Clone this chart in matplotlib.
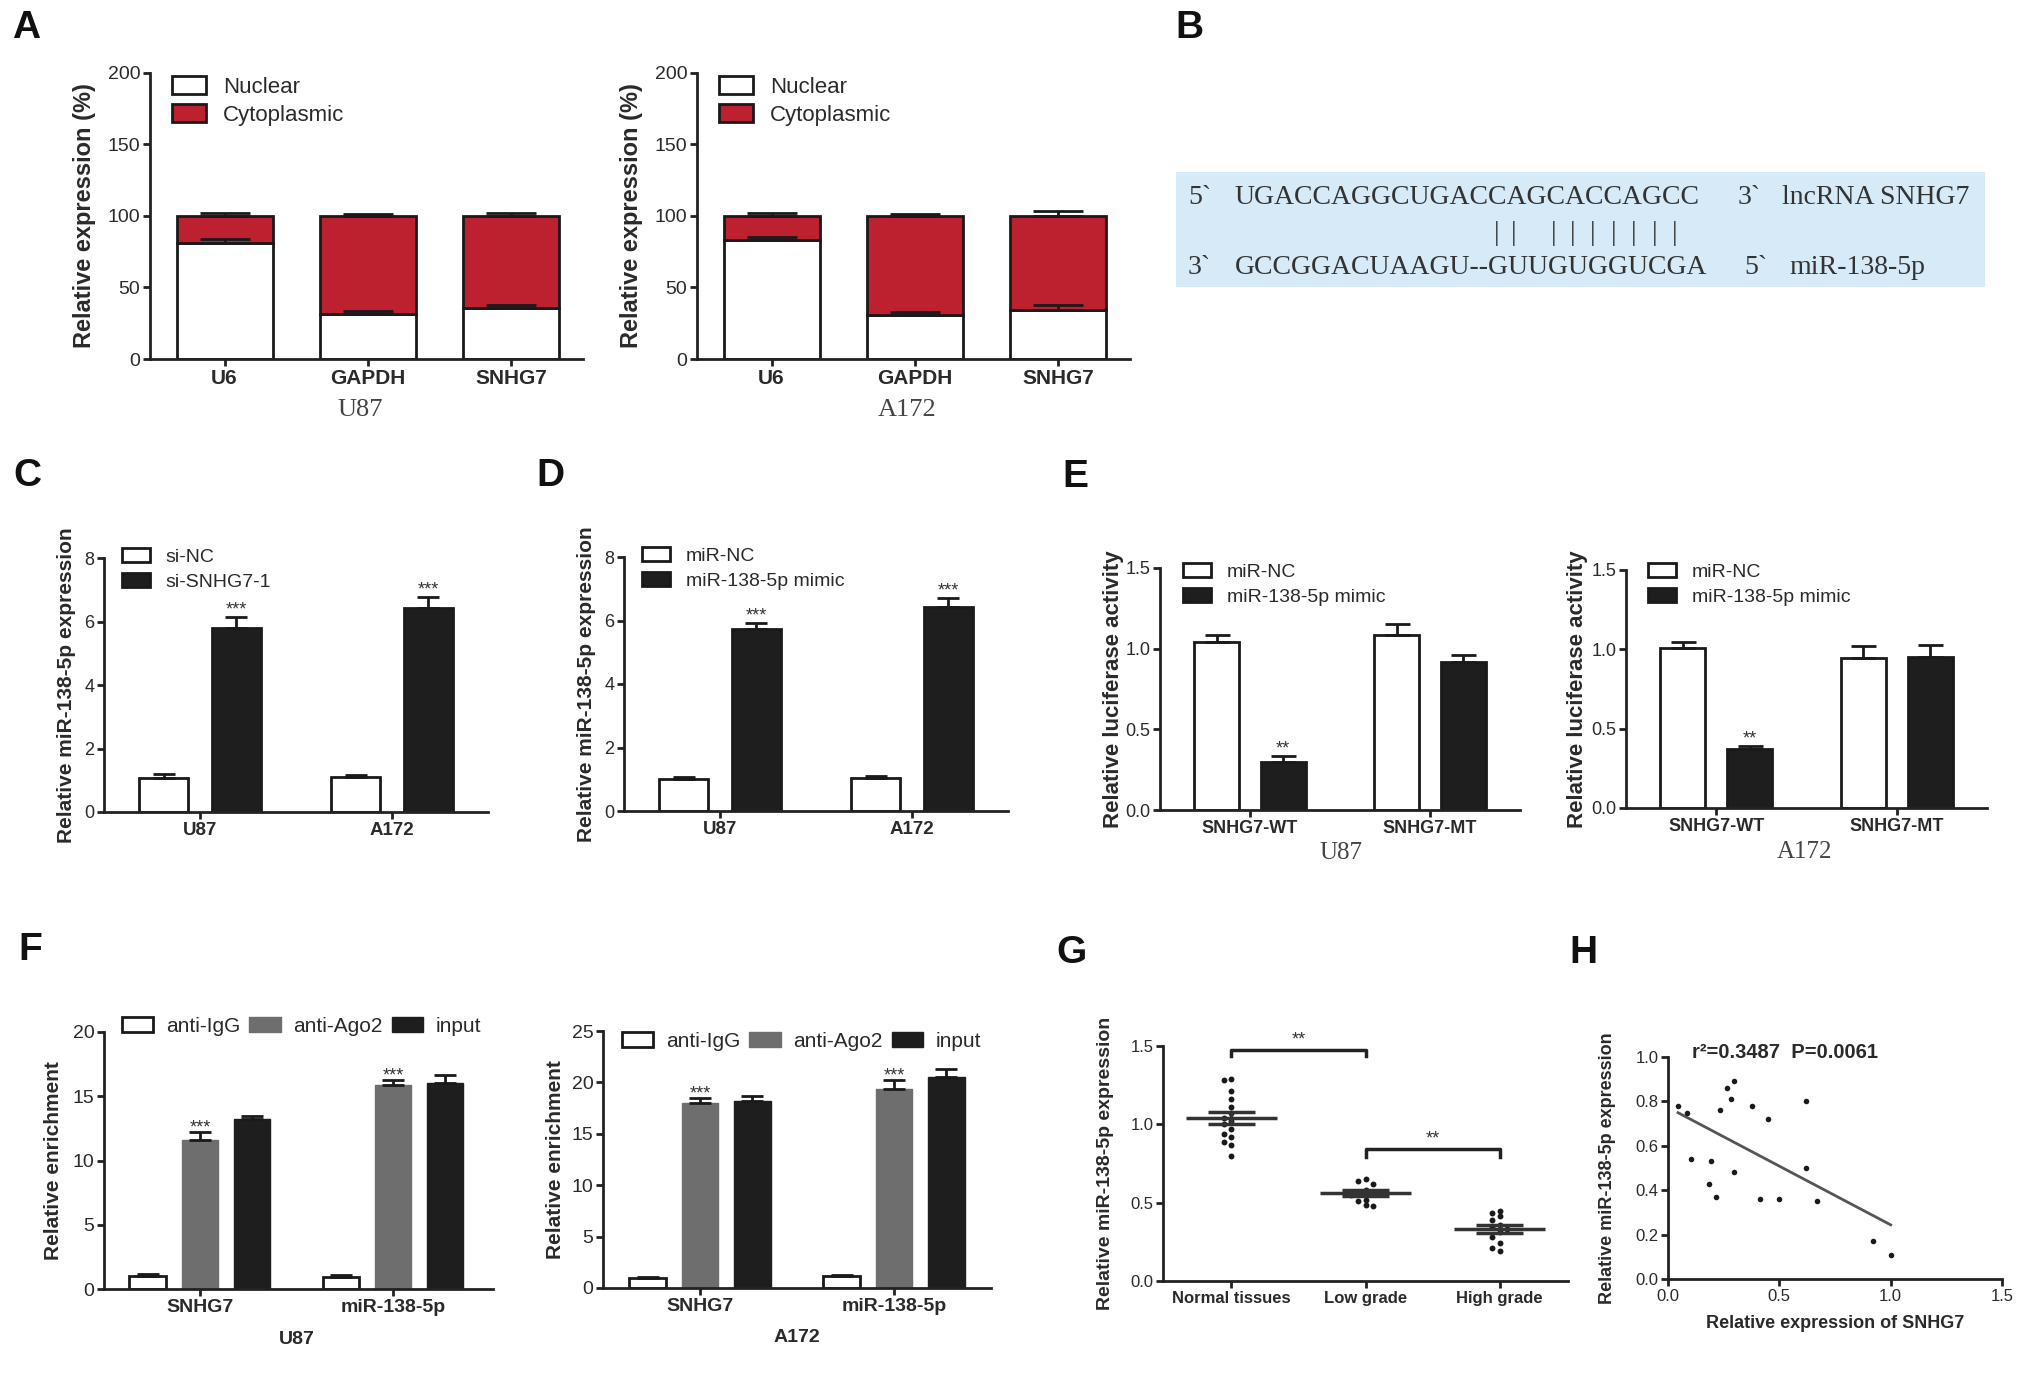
import matplotlib
matplotlib.use("Agg")
import matplotlib.pyplot as plt
import numpy as np
from matplotlib.patches import Rectangle

plt.rcParams['font.family'] = ['Liberation Sans', 'DejaVu Sans']

# ---------------- data ----------------
# A: nuclear / cytoplasmic fraction (%)
genes_a = ["U6", "GAPDH", "SNHG7"]
u87_nuclear = [81.0, 31.5, 35.5]
u87_nuclear_err = [2.5, 2.0, 2.5]
u87_total_err = [2.0, 1.5, 2.0]
a172_nuclear = [83.0, 30.5, 34.0]
a172_nuclear_err = [2.5, 2.0, 3.5]
a172_total_err = [2.0, 1.5, 3.5]

# C, D
cells = ["U87", "A172"]
c_si_nc = [1.07, 1.10]
c_si_nc_err = [0.12, 0.06]
c_si_snhg7 = [5.80, 6.42]
c_si_snhg7_err = [0.33, 0.35]
d_mir_nc = [1.00, 1.03]
d_mir_nc_err = [0.07, 0.07]
d_mimic = [5.73, 6.42]
d_mimic_err = [0.20, 0.30]

# E luciferase
constructs = ["SNHG7-WT", "SNHG7-MT"]
e_u87_nc = [1.04, 1.085]
e_u87_nc_err = [0.045, 0.07]
e_u87_mimic = [0.297, 0.918]
e_u87_mimic_err = [0.04, 0.04]
e_a172_nc = [1.008, 0.945]
e_a172_nc_err = [0.04, 0.075]
e_a172_mimic = [0.372, 0.951]
e_a172_mimic_err = [0.02, 0.075]

# F RIP
targets = ["SNHG7", "miR-138-5p"]
f_u87_igg = [1.03, 0.93]
f_u87_igg_err = [0.15, 0.18]
f_u87_ago2 = [11.6, 15.9]
f_u87_ago2_err = [0.6, 0.34]
f_u87_input = [13.2, 16.05]
f_u87_input_err = [0.26, 0.57]
f_a172_igg = [0.94, 1.13]
f_a172_igg_err = [0.10, 0.10]
f_a172_ago2 = [18.0, 19.4]
f_a172_ago2_err = [0.5, 0.8]
f_a172_input = [18.2, 20.5]
f_a172_input_err = [0.5, 0.8]

# G tissues
groups_g = ["Normal tissues", "Low grade", "High grade"]
g_normal = [1.29, 1.28, 1.21, 1.16, 1.11, 1.07, 1.04, 1.02, 1.00, 0.97,
            0.94, 0.92, 0.89, 0.87, 0.80]
g_low = [0.65, 0.64, 0.62, 0.58, 0.57, 0.56, 0.55, 0.52, 0.51, 0.485, 0.48]
g_high = [0.45, 0.435, 0.415, 0.39, 0.36, 0.345, 0.33, 0.31, 0.28, 0.245,
          0.21, 0.19]

# H correlation
h_snhg7 = [0.045, 0.085, 0.105, 0.195, 0.185, 0.215, 0.235, 0.265, 0.285,
           0.297, 0.297, 0.376, 0.415, 0.447, 0.498, 0.618, 0.618, 0.667,
           0.92, 1.0]
h_mir = [0.78, 0.75, 0.54, 0.53, 0.43, 0.37, 0.76, 0.86, 0.81, 0.89, 0.48,
         0.78, 0.36, 0.72, 0.36, 0.80, 0.50, 0.35, 0.17, 0.11]

# ---------------- figure ----------------
W, H = 2031, 1381
fig = plt.figure(figsize=(W / 100, H / 100), dpi=100)

RED = '#bd2130'
DARK = '#1e1e1e'
GRAY = '#6e6e6e'
EDGE = '#1a1a1a'
TXT = '#2a2a2a'


def add_ax(l, t, r, b):
    return fig.add_axes([l / W, 1 - b / H, (r - l) / W, (b - t) / H])


def style(ax, tick_fs):
    for s in ['top', 'right']:
        ax.spines[s].set_visible(False)
    for s in ['left', 'bottom']:
        ax.spines[s].set_linewidth(2)
        ax.spines[s].set_color('#222222')
    ax.tick_params(width=2, length=5, labelsize=tick_fs, colors='#222222',
                   labelcolor=TXT, pad=2)


def ylab(ax, text, fs, cx, left, right):
    ax.set_ylabel(text, fontsize=fs, fontweight='bold', va='center', color=TXT)
    ax.yaxis.set_label_coords((cx - left) / (right - left), 0.5)


def ftext(x, y, s, **kw):
    fig.text(x / W, 1 - y / H, s, **kw)


def put_legend(ax, x, y, fs, ncol=1, hl=1.6, hh=0.8, tp=0.7, ls=0.4, cs=1.0):
    ax.legend(loc='upper left', bbox_to_anchor=(x / W, 1 - y / H),
              bbox_transform=fig.transFigure, frameon=False, fontsize=fs,
              ncol=ncol, handlelength=hl, handleheight=hh, handletextpad=tp,
              labelspacing=ls, columnspacing=cs, borderpad=0, borderaxespad=0,
              labelcolor=TXT)


def up_err(ax, x, top, err, cap, lw=2):
    ax.errorbar(x, top, yerr=[np.zeros(len(err)), err], fmt='none',
                ecolor=EDGE, elinewidth=lw, capsize=cap, capthick=lw, zorder=3)


# ---------- A ----------
def panel_a(l, r, nuclear, nerr, terr, cell):
    ax = add_ax(l, 72.7, r, 359)
    x = np.arange(len(genes_a))
    cyto = [100 - v for v in nuclear]
    up_err(ax, x, [100] * 3, terr, 18)
    up_err(ax, x, nuclear, nerr, 18)
    ax.bar(x, nuclear, 0.67, color='white', edgecolor=EDGE, linewidth=2,
           label='Nuclear', zorder=2)
    ax.bar(x, cyto, 0.67, bottom=nuclear, color=RED, edgecolor=EDGE,
           linewidth=2, label='Cytoplasmic', zorder=2)
    ax.set_xlim(-0.52, 2.5)
    ax.set_ylim(0, 200)
    ax.set_yticks([0, 50, 100, 150, 200])
    ax.set_xticks(x)
    ax.set_xticklabels(genes_a, fontweight='bold', fontsize=15)
    style(ax, 14)
    ax.tick_params(axis='x', labelsize=15)
    ylab(ax, 'Relative expression (%)', 17, l - 65, l, r)
    put_legend(ax, l + 22, 76, 16, hl=1.55, hh=0.85, tp=0.75, ls=0.3)
    ftext((l + r) / 2 - 6, 410, cell, fontsize=19, family='Liberation Serif',
          color='#444444', ha='center', va='center')


panel_a(150, 583, u87_nuclear, u87_nuclear_err, u87_total_err, 'U87')
panel_a(697, 1130, a172_nuclear, a172_nuclear_err, a172_total_err, 'A172')

# ---------- B ----------
fig.add_artist(Rectangle((1176 / W, 1 - 287 / H), (1985 - 1176) / W,
                         (287 - 172) / H, transform=fig.transFigure,
                         facecolor='#d6eaf8', edgecolor='none'))
ser = dict(fontsize=20, family='Liberation Serif', color='#333333',
           va='center', ha='left')
ftext(1188, 198, '5`', **ser)
ftext(1234, 198, 'UGACCAGGCUGACCAGCACCAGCC', **ser)
ftext(1738, 198, '3`', **ser)
ftext(1782, 198, 'lncRNA SNHG7', **ser)
ftext(1188, 267, '3`', **ser)
ftext(1235, 267, 'GCCGGACUAAGU--GUUGUGGUCGA', **ser)
ftext(1744, 267, '5`', **ser)
ftext(1789, 267, 'miR-138-5p', **ser)
for bx in [1497, 1514, 1554, 1573, 1593, 1614, 1634, 1655, 1675]:
    ftext(bx, 234, '|', fontsize=20, family='Liberation Serif',
          color='#333333', va='center', ha='center')


# ---------- C / D / E (two series) ----------
def two_bar(l, t, r, b, cats, v1, e1, v2, e2, lab1, lab2, ylim, yticks,
            ylabel, ylfs, ylcx, stars, leg_xy, cap, off=0.19, wid=0.255,
            fmt=None, legfs=14, catfs=13.5):
    ax = add_ax(l, t, r, b)
    x = np.arange(len(cats))
    up_err(ax, x - off, v1, e1, cap)
    up_err(ax, x + off, v2, e2, cap)
    ax.bar(x - off, v1, wid, color='white', edgecolor=EDGE, linewidth=2,
           label=lab1, zorder=2)
    ax.bar(x + off, v2, wid, color=DARK, edgecolor=EDGE, linewidth=2,
           label=lab2, zorder=2)
    for i, s in enumerate(stars):
        if s:
            ax.text(x[i] + off, v2[i] + e2[i] - ylim[1] * 0.006, s,
                    ha='center', va='bottom', fontsize=13, color='#333333')
    ax.set_xlim(-0.5, 1.5)
    ax.set_ylim(*ylim)
    ax.set_yticks(yticks)
    if fmt:
        ax.set_yticklabels([fmt.format(v) for v in yticks])
    ax.set_xticks(x)
    ax.set_xticklabels(cats, fontweight='bold', fontsize=catfs)
    style(ax, 13)
    ax.tick_params(axis='x', labelsize=catfs)
    ylab(ax, ylabel, ylfs, ylcx, l, r)
    put_legend(ax, leg_xy[0], leg_xy[1], legfs, hl=1.45, hh=0.75, tp=0.8,
               ls=0.35)
    return ax


two_bar(104, 558, 488, 812, cells, c_si_nc, c_si_nc_err, c_si_snhg7,
        c_si_snhg7_err, 'si-NC', 'si-SNHG7-1', (0, 8), [0, 2, 4, 6, 8],
        'Relative miR-138-5p expression', 15, 67, ['***', '***'],
        (122, 548), 8)
two_bar(624, 557, 1008, 811, cells, d_mir_nc, d_mir_nc_err, d_mimic,
        d_mimic_err, 'miR-NC', 'miR-138-5p mimic', (0, 8), [0, 2, 4, 6, 8],
        'Relative miR-138-5p expression', 15, 586, ['***', '***'],
        (642, 547), 8)
two_bar(1160, 568, 1520, 810, constructs, e_u87_nc, e_u87_nc_err, e_u87_mimic,
        e_u87_mimic_err, 'miR-NC', 'miR-138-5p mimic', (0, 1.5),
        [0, 0.5, 1.0, 1.5], 'Relative luciferase activity', 16, 1113,
        ['**', ''], (1183, 563), 9, off=0.185, wid=0.25, fmt='{:.1f}',
        catfs=13)
two_bar(1626, 570, 1987, 808, constructs, e_a172_nc, e_a172_nc_err,
        e_a172_mimic, e_a172_mimic_err, 'miR-NC', 'miR-138-5p mimic',
        (0, 1.5), [0, 0.5, 1.0, 1.5], 'Relative luciferase activity', 16,
        1578, ['**', ''], (1648, 563), 9, off=0.185, wid=0.25, fmt='{:.1f}',
        catfs=13)
ftext(1341, 853, 'U87', fontsize=18, family='Liberation Serif',
      color='#444444', ha='center', va='center')
ftext(1805, 852, 'A172', fontsize=18, family='Liberation Serif',
      color='#444444', ha='center', va='center')


# ---------- F ----------
def panel_f(l, t, r, b, igg, igg_e, ago, ago_e, inp, inp_e, ylim, yticks,
            ylcx, leg_xy, cell, cell_xy, xlim):
    ax = add_ax(l, t, r, b)
    x = np.arange(len(targets))
    off, wid = 0.27, 0.19
    up_err(ax, x - off, igg, igg_e, 8)
    up_err(ax, x, ago, ago_e, 8)
    up_err(ax, x + off, inp, inp_e, 8)
    ax.bar(x - off, igg, wid, color='white', edgecolor=EDGE, linewidth=2,
           label='anti-IgG', zorder=2)
    ax.bar(x, ago, wid, color=GRAY, edgecolor=GRAY, linewidth=1,
           label='anti-Ago2', zorder=2)
    ax.bar(x + off, inp, wid, color=DARK, edgecolor=DARK, linewidth=1,
           label='input', zorder=2)
    for i in range(len(x)):
        ax.text(x[i], ago[i] + ago_e[i] - ylim[1] * 0.018, '***', ha='center',
                va='bottom', fontsize=13, color='#333333')
    ax.set_xlim(*xlim)
    ax.set_ylim(*ylim)
    ax.set_yticks(yticks)
    ax.set_xticks(x)
    ax.set_xticklabels(targets, fontweight='bold', fontsize=14)
    style(ax, 14)
    ax.tick_params(axis='x', labelsize=14)
    ylab(ax, 'Relative enrichment', 15, ylcx, l, r)
    put_legend(ax, leg_xy[0], leg_xy[1], 15, ncol=3, hl=1.5, hh=0.75,
               tp=0.6, cs=0.45)
    ftext(cell_xy[0], cell_xy[1], cell, fontsize=14, fontweight='bold',
          color=TXT, ha='center', va='center')


panel_f(104, 1032, 493, 1289, f_u87_igg, f_u87_igg_err, f_u87_ago2,
        f_u87_ago2_err, f_u87_input, f_u87_input_err, (0, 20),
        [0, 5, 10, 15, 20], 53, (122, 1017), 'U87', (297, 1340),
        (-0.497, 1.518))
panel_f(603, 1031, 991, 1288, f_a172_igg, f_a172_igg_err, f_a172_ago2,
        f_a172_ago2_err, f_a172_input, f_a172_input_err, (0, 25),
        [0, 5, 10, 15, 20, 25], 556, (622, 1032), 'A172', (797, 1338),
        (-0.5, 1.5))


# ---------- G ----------
def swarm(vals, d=0.055, dy=0.035):
    placed, offs = [], []
    for v in vals:
        o = 0.0
        for k in [0, -1, 1, -2, 2, -3, 3]:
            o = k * d
            if all(abs(o - po) > d * 0.9 or abs(v - pv) > dy
                   for po, pv in placed):
                break
        placed.append((o, v))
        offs.append(o)
    return np.array(offs)


axg = add_ax(1163, 1046, 1568, 1281)
for i, vals in enumerate([g_normal, g_low, g_high]):
    vals = np.array(vals)
    axg.scatter(i + swarm(vals), vals, s=18, color='#1a1a1a', zorder=3,
                linewidths=0)
    m = vals.mean()
    sem = vals.std(ddof=1) / np.sqrt(len(vals))
    axg.hlines(m, i - 0.34, i + 0.34, color='#333333', lw=2.5, zorder=4)
    axg.hlines([m - sem, m + sem], i - 0.175, i + 0.175, color='#333333',
               lw=2.5, zorder=4)
    axg.vlines(i, m - sem, m + sem, color='#333333', lw=2.5, zorder=4)
for (a, b, yb, yt) in [(0, 1, 1.474, 1.436), (1, 2, 0.843, 0.79)]:
    axg.plot([a, a, b, b], [yt, yb, yb, yt], color='#222222', lw=2.5,
             clip_on=False)
    axg.text((a + b) / 2, yb + 0.01, '**', ha='center', va='bottom',
             fontsize=13, color='#333333')
axg.set_xlim(-0.51, 2.51)
axg.set_ylim(0, 1.5)
axg.set_yticks([0, 0.5, 1.0, 1.5])
axg.set_yticklabels(['0.0', '0.5', '1.0', '1.5'])
axg.set_xticks(range(3))
axg.set_xticklabels(groups_g, fontweight='bold', fontsize=12)
style(axg, 12)
axg.tick_params(axis='x', labelsize=12)
ylab(axg, 'Relative miR-138-5p expression', 14, 1106, 1163, 1568)

# ---------- H ----------
axh = add_ax(1668, 1057, 2002, 1279)
hx = np.array(h_snhg7)
hy = np.array(h_mir)
axh.scatter(hx, hy, s=16, color='#1a1a1a', linewidths=0, zorder=3)
slope, icpt = np.polyfit(hx, hy, 1)
xx = np.array([hx.min(), hx.max()])
axh.plot(xx, slope * xx + icpt, color='#555555', lw=2)
axh.set_xlim(0, 1.5)
axh.set_ylim(0, 1.0)
axh.set_xticks([0, 0.5, 1.0, 1.5])
axh.set_xticklabels(['0.0', '0.5', '1.0', '1.5'])
axh.set_yticks([0, 0.2, 0.4, 0.6, 0.8, 1.0])
axh.set_yticklabels(['0.0', '0.2', '0.4', '0.6', '0.8', '1.0'])
style(axh, 12)
axh.set_xlabel('Relative expression of SNHG7', fontsize=13,
               fontweight='bold', color=TXT, labelpad=8)
ylab(axh, 'Relative miR-138-5p expression', 13, 1608, 1668, 2002)
axh.text(0.108, 1.02, 'r²=0.3487  P=0.0061', fontsize=14.5,
         fontweight='bold', color=TXT, va='center', ha='left')

# ---------- panel letters ----------
for letter, x, y in [('A', 12, 28), ('B', 1175, 28), ('C', 13, 476),
                     ('D', 536, 476), ('E', 1062, 477), ('F', 18, 950),
                     ('G', 1056, 953), ('H', 1569, 953)]:
    ftext(x, y, letter, fontsize=28, fontweight='bold', color='#111111',
          ha='left', va='center')

fig.savefig('out.png', dpi=100)
